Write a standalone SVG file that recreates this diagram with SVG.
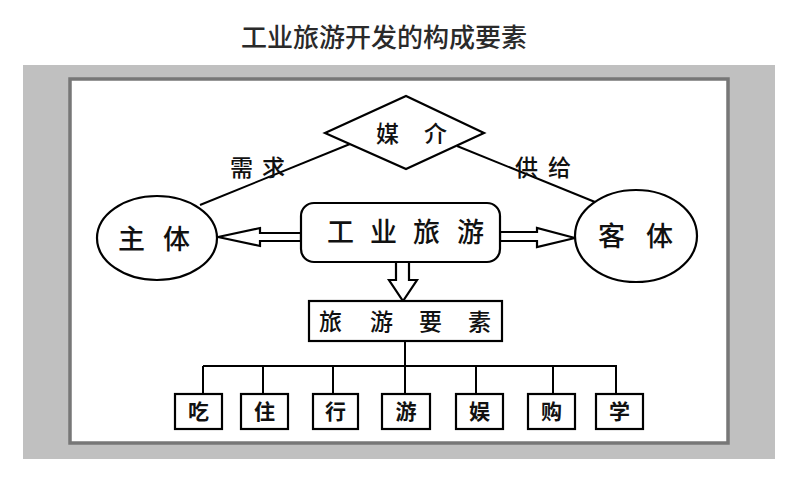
<svg xmlns="http://www.w3.org/2000/svg" width="800" height="478" viewBox="0 0 800 478">
<style>
.ln{stroke:#000;stroke-width:2;fill:none}
.shp{stroke:#000;stroke-width:2.2;fill:#fff}
.t{font-family:"Noto Sans CJK SC","Noto Sans",sans-serif;fill:#111}
.big{font-size:27px;font-weight:500}
.mid{font-size:23px;font-weight:500}
.sm{font-size:21px;font-weight:700}
</style>
<rect x="0" y="0" width="800" height="478" fill="#fff"/>
<text x="384" y="47" text-anchor="middle" class="t" style="font-size:26px;font-weight:500;fill:#2a2a2a">工业旅游开发的构成要素</text>
<rect x="23" y="65" width="752" height="394" fill="#c0c0c0"/>
<rect x="70" y="79" width="658" height="364" fill="#fff" stroke="#777" stroke-width="3.5"/>
<g id="connectors">
<line class="ln" x1="200" y1="205" x2="350" y2="144"/>
<line class="ln" x1="457" y1="146" x2="595" y2="202"/>
<polygon class="shp" points="218,237 260,228 260,233 301,233 301,241 260,241 260,246"/>
<polygon class="shp" points="500,232 537,232 537,228 575,238 537,247 537,241 500,241"/>
<polygon class="shp" points="396,262 396,280 389,280 403,301 417,280 409,280 409,262"/>
<path class="ln" d="M405,341V366M203,366H617M203,366V394M263,366V394M333,366V394M405,366V394M476,366V394M553,366V394M616,366V394"/>
<text class="t mid" x="230 262" y="176">需求</text>
<text class="t mid" x="515 548" y="176">供给</text>
</g>
<g id="media">
<polygon class="shp" points="325,133 406,96 484,133 406,169"/>
<text class="t mid" x="376 424" y="142">媒介</text>
</g>
<g id="subject">
<ellipse class="shp" cx="157" cy="238" rx="60" ry="42"/>
<text class="t big" x="118 163" y="249">主体</text>
</g>
<g id="object">
<ellipse class="shp" cx="636" cy="236" rx="61" ry="46"/>
<text class="t big" x="598 646" y="246">客体</text>
</g>
<g id="industrial">
<rect class="shp" x="301" y="203" width="199" height="59" rx="13"/>
<text class="t big" x="327 370 413 457" y="242">工业旅游</text>
</g>
<g id="elements">
<rect class="shp" x="309" y="301" width="193" height="40"/>
<text class="t mid" x="319 370 419 468" y="330">旅游要素</text>
</g>
<g id="leaves">
<rect class="shp" x="175" y="394" width="47" height="35"/>
<text class="t sm" x="198.5" y="419" text-anchor="middle">吃</text>
<rect class="shp" x="241" y="394" width="47" height="35"/>
<text class="t sm" x="264.5" y="419" text-anchor="middle">住</text>
<rect class="shp" x="313" y="394" width="45" height="35"/>
<text class="t sm" x="335.5" y="419" text-anchor="middle">行</text>
<rect class="shp" x="382" y="394" width="48" height="35"/>
<text class="t sm" x="406" y="419" text-anchor="middle">游</text>
<rect class="shp" x="456" y="394" width="47" height="35"/>
<text class="t sm" x="479.5" y="419" text-anchor="middle">娱</text>
<rect class="shp" x="528" y="394" width="47" height="35"/>
<text class="t sm" x="551.5" y="419" text-anchor="middle">购</text>
<rect class="shp" x="596" y="394" width="47" height="35"/>
<text class="t sm" x="619.5" y="419" text-anchor="middle">学</text>
</g>
</svg>
